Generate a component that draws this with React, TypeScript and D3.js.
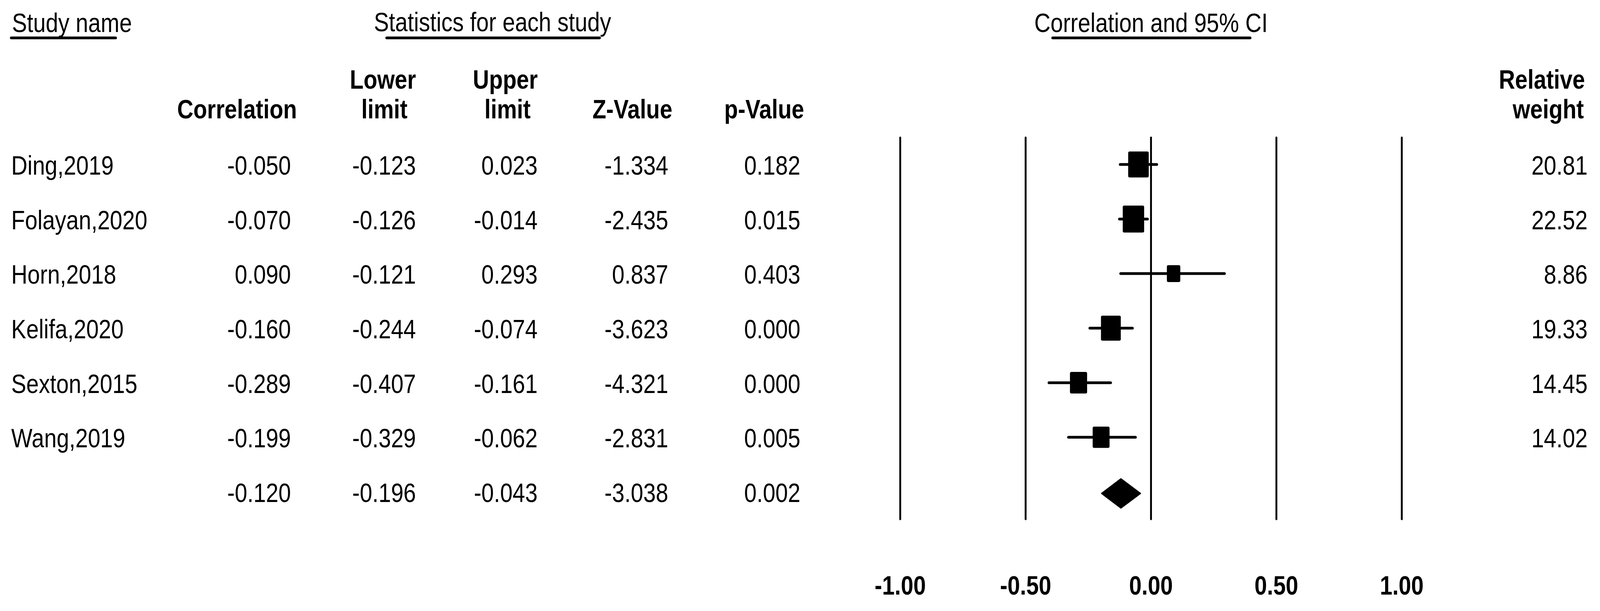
import React, { useRef, useEffect } from 'react';
import * as d3 from 'd3';

// Forest plot data
const studies = ['Ding,2019', 'Folayan,2020', 'Horn,2018', 'Kelifa,2020', 'Sexton,2015', 'Wang,2019'];
const correlation = [-0.05, -0.07, 0.09, -0.16, -0.289, -0.199];
const lowerLimit = [-0.123, -0.126, -0.121, -0.244, -0.407, -0.329];
const upperLimit = [0.023, -0.014, 0.293, -0.074, -0.161, -0.062];
const zValue = [-1.334, -2.435, 0.837, -3.623, -4.321, -2.831];
const pValue = [0.182, 0.015, 0.403, 0.0, 0.0, 0.005];
const relWeight = [20.81, 22.52, 8.86, 19.33, 14.45, 14.02];

// pooled estimate: correlation, lower, upper, z, p
const summary = [-0.12, -0.196, -0.043, -3.038, 0.002];

const axisTicks = [-1, -0.5, 0, 0.5, 1];

const WIDTH = 4262;
const HEIGHT = 1564;
const FONT = '"Liberation Sans", Arial, sans-serif';
const SQUEEZE = 0.88; // the source text is a bit condensed

const App: React.FC = () => {
    const svgRef = useRef<SVGSVGElement>(null);

    useEffect(() => {
        document.body.style.margin = '0';
        document.body.style.overflow = 'hidden';
    }, []);

    useEffect(() => {
        if (!svgRef.current) return;
        const svg = d3.select(svgRef.current);
        svg.selectAll('*').remove();

        svg.append('rect')
            .attr('width', WIDTH).attr('height', HEIGHT)
            .attr('fill', '#fff');

        const x = d3.scaleLinear().domain([-1, 1]).range([2398, 3734]);
        const y = d3.scaleLinear().domain([0, 6]).range([421, 1259]);
        const boxW = d3.scaleSqrt().domain([0, d3.max(relWeight) as number]).range([0, 57]);

        const addText = (
            str: string,
            tx: number,
            ty: number,
            anchor: 'start' | 'middle' | 'end',
            bold = false
        ) => {
            svg.append('g')
                .attr('transform', `translate(${tx},${ty}) scale(${SQUEEZE},1)`)
                .append('text')
                .attr('text-anchor', anchor)
                .attr('font-family', FONT)
                .attr('font-size', 68)
                .attr('font-weight', bold ? 'bold' : 'normal')
                .attr('fill', '#000')
                .text(str);
        };

        const underline = (x1: number, x2: number) => {
            svg.append('line')
                .attr('x1', x1).attr('x2', x2)
                .attr('y1', 97).attr('y2', 97)
                .attr('stroke', '#000')
                .attr('stroke-width', 7)
                .attr('stroke-linecap', 'round');
        };

        // Top headers
        addText('Study name', 32, 82, 'start');
        underline(30, 308);
        addText('Statistics for each study', 1312, 80, 'middle');
        underline(1030, 1597);
        addText('Correlation and 95% CI', 3066, 82, 'middle');
        underline(2804, 3330);

        // Column headers
        addText('Correlation', 791, 303, 'end', true);
        addText('Lower', 1020, 227, 'middle', true);
        addText('limit', 1024, 303, 'middle', true);
        addText('Upper', 1346, 227, 'middle', true);
        addText('limit', 1352, 303, 'middle', true);
        addText('Z-Value', 1791, 303, 'end', true);
        addText('p-Value', 2142, 303, 'end', true);
        addText('Relative', 4222, 227, 'end', true);
        addText('weight', 4219, 303, 'end', true);

        const f3 = (v: number) => v.toFixed(3);
        const f2 = (v: number) => v.toFixed(2);

        studies.forEach((name, i) => {
            const base = y(i) + 26;
            addText(name, 30, base, 'start');
            addText(f3(correlation[i]), 775, base, 'end');
            addText(f3(lowerLimit[i]), 1108, base, 'end');
            addText(f3(upperLimit[i]), 1432, base, 'end');
            addText(f3(zValue[i]), 1780, base, 'end');
            addText(f3(pValue[i]), 2132, base, 'end');
            addText(f2(relWeight[i]), 4229, base, 'end');
        });

        const sBase = y(6) + 26;
        addText(f3(summary[0]), 775, sBase, 'end');
        addText(f3(summary[1]), 1108, sBase, 'end');
        addText(f3(summary[2]), 1432, sBase, 'end');
        addText(f3(summary[3]), 1780, sBase, 'end');
        addText(f3(summary[4]), 2132, sBase, 'end');

        // Reference lines
        svg.append('g')
            .selectAll('line')
            .data(axisTicks)
            .join('line')
            .attr('x1', d => x(d)).attr('x2', d => x(d))
            .attr('y1', 352).attr('y2', 1329)
            .attr('stroke', '#000')
            .attr('stroke-width', 5)
            .attr('stroke-linecap', 'round');

        // Confidence intervals
        svg.append('g')
            .selectAll('line')
            .data(studies)
            .join('line')
            .attr('x1', (_, i) => x(lowerLimit[i]))
            .attr('x2', (_, i) => x(upperLimit[i]))
            .attr('y1', (_, i) => y(i))
            .attr('y2', (_, i) => y(i))
            .attr('stroke', '#000')
            .attr('stroke-width', 7)
            .attr('stroke-linecap', 'round');

        // Weighted boxes
        svg.append('g')
            .selectAll('rect')
            .data(studies)
            .join('rect')
            .attr('x', (_, i) => x(correlation[i]) - boxW(relWeight[i]) / 2)
            .attr('y', (_, i) => y(i) - (boxW(relWeight[i]) * 1.21) / 2)
            .attr('width', (_, i) => boxW(relWeight[i]))
            .attr('height', (_, i) => boxW(relWeight[i]) * 1.21)
            .attr('rx', 4)
            .attr('fill', '#000');

        // Summary diamond
        const yc = y(6) + 4;
        const diamond = d3.line<[number, number]>();
        svg.append('path')
            .attr('d', diamond([
                [x(summary[1]), yc],
                [x(summary[0]), yc - 37],
                [x(summary[2]), yc],
                [x(summary[0]), yc + 37],
            ]) + 'Z')
            .attr('fill', '#000')
            .attr('stroke', '#000')
            .attr('stroke-width', 4)
            .attr('stroke-linejoin', 'round');

        // Axis labels
        axisTicks.forEach(t => {
            addText(t.toFixed(2), x(t), 1522, 'middle', true);
        });
    }, []);

    return (
        <div style={{ position: 'fixed', left: 0, top: 0, width: '100vw', height: '100vh', background: '#fff' }}>
            <svg
                ref={svgRef}
                viewBox={`0 0 ${WIDTH} ${HEIGHT}`}
                preserveAspectRatio="none"
                style={{ display: 'block', width: '100%', height: '100%' }}
            />
        </div>
    );
};

export default App;
